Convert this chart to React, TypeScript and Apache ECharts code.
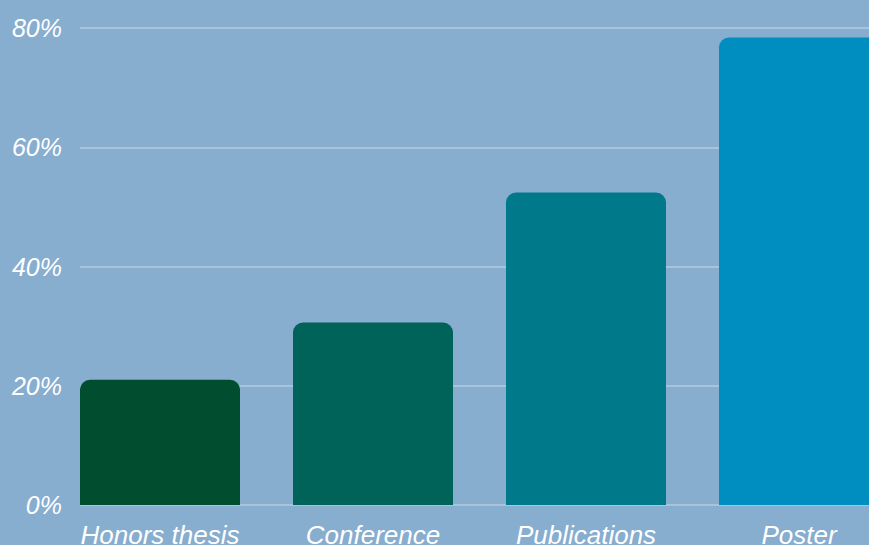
import React, { useEffect, useRef } from "react";
import * as echarts from "echarts";

const categories = ["Honors thesis", "Conference", "Publications", "Poster"];
const values = [21, 30.6, 52.4, 78.4];
const barColors = ["#004d30", "#00635a", "#007a8a", "#008dbf"];
const yTicks = [0, 20, 40, 60, 80];

export default function App() {
  const ref = useRef<HTMLDivElement>(null);
  useEffect(() => {
    if (!ref.current) return;
    const chart = echarts.init(ref.current, null, { renderer: "svg" });
    const font = "'Liberation Sans', Arial, sans-serif";
    chart.setOption({
      animation: false,
      backgroundColor: "#87adcf",
      grid: [
        { left: 80, right: 0, top: 28, bottom: 40, outerBoundsMode: "none", containLabel: false },
        { left: 53.5, width: 852, top: 28, bottom: 40, outerBoundsMode: "none", containLabel: false },
      ],
      xAxis: [
        { type: "value", gridIndex: 0, show: false, min: 0, max: 1 },
        {
          type: "category",
          gridIndex: 1,
          data: categories,
          axisLine: { show: false },
          axisTick: { show: false },
          axisLabel: {
            color: "#ffffff",
            fontStyle: "italic",
            fontSize: 26,
            fontFamily: font,
            margin: 17,
          },
        },
      ],
      yAxis: [
        {
          type: "value",
          gridIndex: 0,
          min: yTicks[0],
          max: yTicks[yTicks.length - 1],
          interval: 20,
          axisLine: { show: false },
          axisTick: { show: false },
          axisLabel: {
            formatter: "{value}%",
            color: "#ffffff",
            fontStyle: "italic",
            fontSize: 25,
            fontFamily: font,
            margin: 18,
          },
          splitLine: { lineStyle: { color: "#a8c4dc", width: 2 } },
        },
        {
          type: "value",
          gridIndex: 1,
          min: yTicks[0],
          max: yTicks[yTicks.length - 1],
          show: false,
          splitLine: { show: false },
        },
      ],
      series: [
        {
          type: "bar",
          xAxisIndex: 1,
          yAxisIndex: 1,
          barWidth: 160,
          data: values.map((v, i) => ({
            value: v,
            itemStyle: { color: barColors[i], borderRadius: [10, 10, 0, 0] },
          })),
        },
      ],
    });
    return () => chart.dispose();
  }, []);
  return (
    <div
      ref={ref}
      style={{ position: "absolute", left: 0, top: 0, width: 869, height: 545 }}
    />
  );
}
